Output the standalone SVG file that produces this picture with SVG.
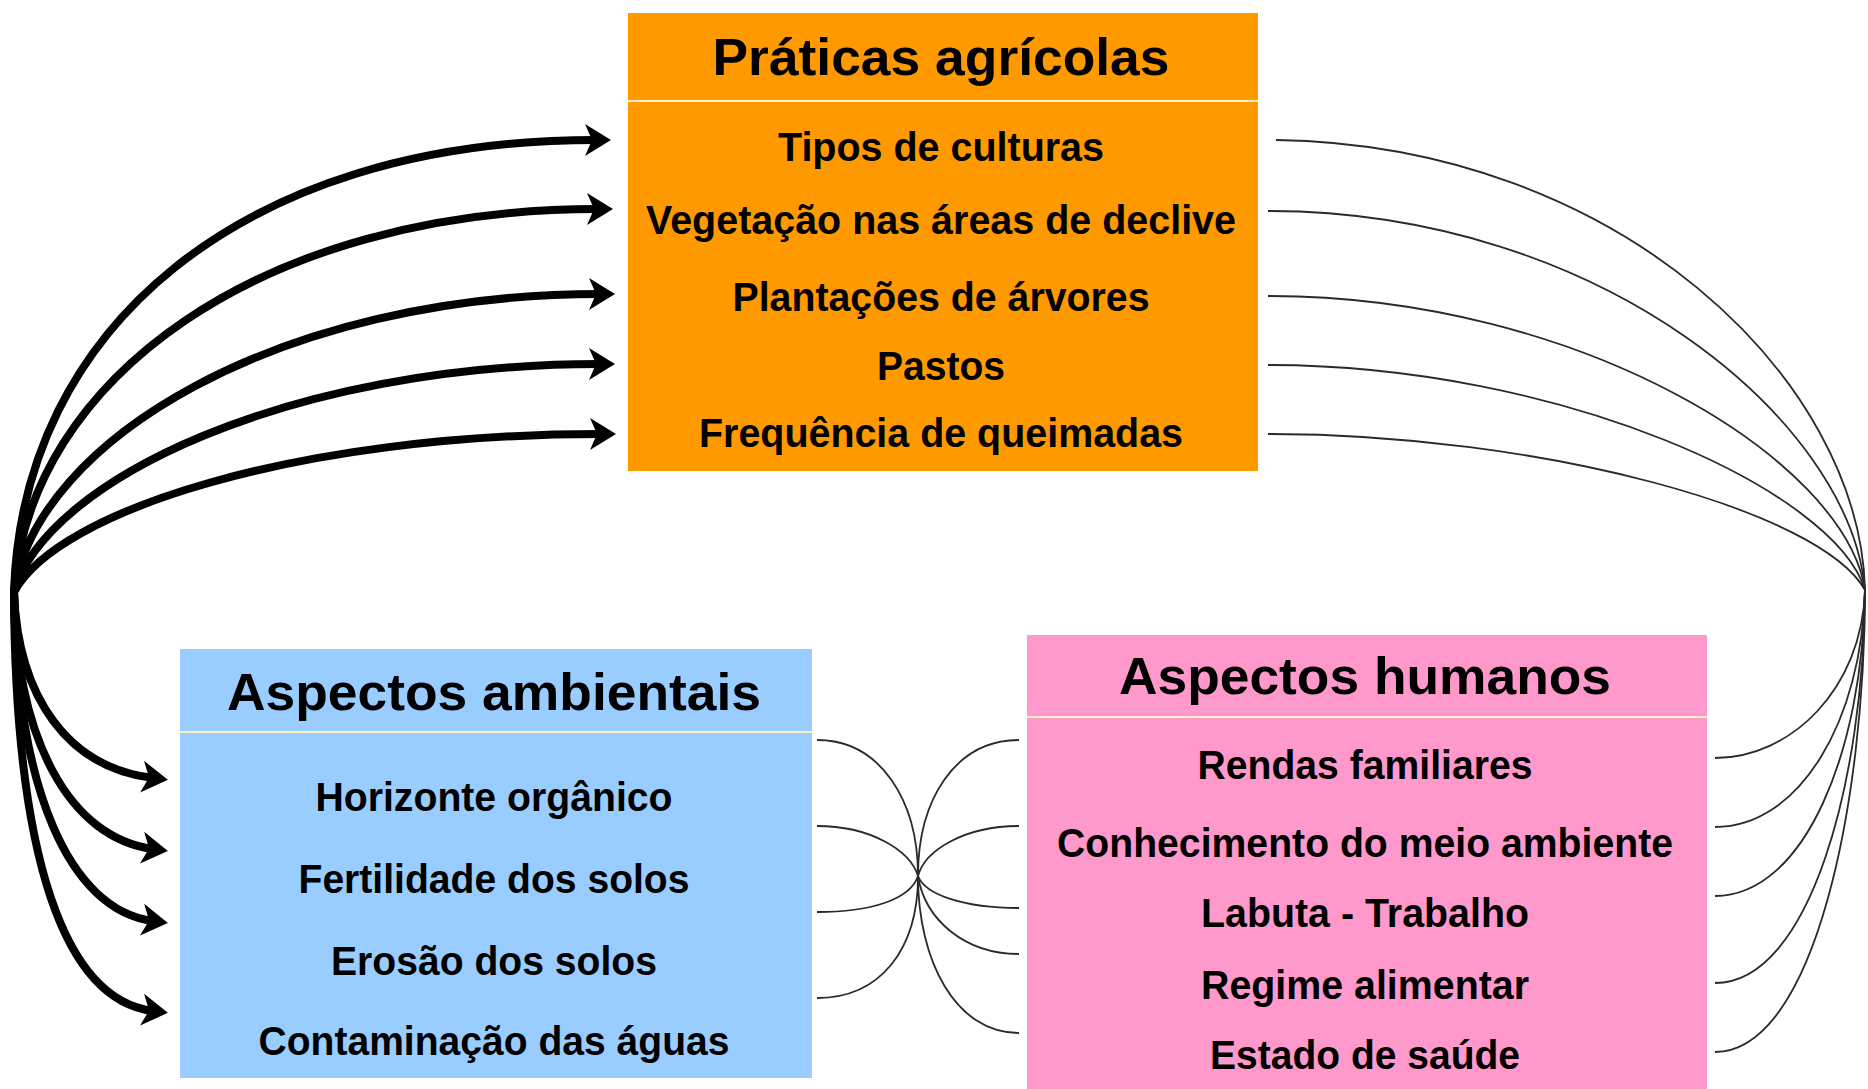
<svg xmlns="http://www.w3.org/2000/svg" width="1868" height="1089" viewBox="0 0 1868 1089">
<defs>
<style>
.t{font-family:"Liberation Sans",Arial,sans-serif;font-weight:bold;fill:#000;text-anchor:middle}
.title{font-size:52px}
.item{font-size:41px}
.div{stroke:#FFF0C8;stroke-width:2}
.thick{fill:none;stroke:#000;stroke-width:8}
.thin{fill:none;stroke:#2a2a2a;stroke-width:1.8}
</style>
<marker id="ah" markerUnits="userSpaceOnUse" markerWidth="44" markerHeight="44" viewBox="-22 -22 44 44" refX="0" refY="0" orient="auto">
<path d="M-11,-16 L15,0 L-11,16 L-4,0 Z" fill="#000"/>
</marker>
</defs>
<rect width="1868" height="1089" fill="#fff"/>

<g id="praticas">
<rect x="628" y="13" width="630" height="458" fill="#FF9900"/>
<line class="div" x1="628" y1="101" x2="1258" y2="101"/>
<text class="t title" x="941" y="75" textLength="457" lengthAdjust="spacingAndGlyphs">Práticas agrícolas</text>
<text class="t item" x="941" y="161" textLength="326" lengthAdjust="spacingAndGlyphs">Tipos de culturas</text>
<text class="t item" x="941" y="234" textLength="590" lengthAdjust="spacingAndGlyphs">Vegetação nas áreas de declive</text>
<text class="t item" x="941" y="311" textLength="417" lengthAdjust="spacingAndGlyphs">Plantações de árvores</text>
<text class="t item" x="941" y="380" textLength="128" lengthAdjust="spacingAndGlyphs">Pastos</text>
<text class="t item" x="941" y="447" textLength="484" lengthAdjust="spacingAndGlyphs">Frequência de queimadas</text>
</g>

<g id="ambientais">
<rect x="180" y="649" width="632" height="429" fill="#99CCFF"/>
<line class="div" x1="180" y1="732" x2="812" y2="732"/>
<text class="t title" x="494" y="710" textLength="534" lengthAdjust="spacingAndGlyphs">Aspectos ambientais</text>
<text class="t item" x="494" y="811" textLength="357" lengthAdjust="spacingAndGlyphs">Horizonte orgânico</text>
<text class="t item" x="494" y="893" textLength="391" lengthAdjust="spacingAndGlyphs">Fertilidade dos solos</text>
<text class="t item" x="494" y="975" textLength="326" lengthAdjust="spacingAndGlyphs">Erosão dos solos</text>
<text class="t item" x="494" y="1055" textLength="471" lengthAdjust="spacingAndGlyphs">Contaminação das águas</text>
</g>

<g id="humanos">
<rect x="1027" y="635" width="680" height="454" fill="#FF99CC"/>
<line class="div" x1="1027" y1="717" x2="1707" y2="717"/>
<text class="t title" x="1365" y="694" textLength="492" lengthAdjust="spacingAndGlyphs">Aspectos humanos</text>
<text class="t item" x="1365" y="779" textLength="335" lengthAdjust="spacingAndGlyphs">Rendas familiares</text>
<text class="t item" x="1365" y="857" textLength="616" lengthAdjust="spacingAndGlyphs">Conhecimento do meio ambiente</text>
<text class="t item" x="1365" y="927" textLength="328" lengthAdjust="spacingAndGlyphs">Labuta - Trabalho</text>
<text class="t item" x="1365" y="999" textLength="328" lengthAdjust="spacingAndGlyphs">Regime alimentar</text>
<text class="t item" x="1365" y="1069" textLength="310" lengthAdjust="spacingAndGlyphs">Estado de saúde</text>
</g>

<g id="connectors">
<path class="thick" marker-end="url(#ah)" d="M14,592 C22,330 240,140 596,140"/>
<path class="thick" marker-end="url(#ah)" d="M14,592 C28,380 260,209 598,209"/>
<path class="thick" marker-end="url(#ah)" d="M14,592 C36,440 280,294 600,294"/>
<path class="thick" marker-end="url(#ah)" d="M14,592 C46,480 290,364 600,364"/>
<path class="thick" marker-end="url(#ah)" d="M14,592 C58,510 300,434 601,434"/>
<path class="thick" marker-end="url(#ah)" d="M14,592 C18,700 70,768 153,778"/>
<path class="thick" marker-end="url(#ah)" d="M14,592 C16,740 70,838 153,849"/>
<path class="thick" marker-end="url(#ah)" d="M14,592 C16,790 70,910 153,921"/>
<path class="thick" marker-end="url(#ah)" d="M14,592 C15,860 65,1000 153,1011"/>

<path class="thin" d="M1276,140 C1620,145 1860,380 1865,590"/>
<path class="thin" d="M1268,211 C1600,211 1850,420 1865,590"/>
<path class="thin" d="M1268,296 C1580,296 1845,460 1865,590"/>
<path class="thin" d="M1268,365 C1560,365 1835,490 1865,590"/>
<path class="thin" d="M1268,434 C1540,434 1820,510 1865,590"/>

<path class="thin" d="M1715,758 C1790,758 1862,690 1865,590"/>
<path class="thin" d="M1715,827 C1800,827 1862,720 1865,590"/>
<path class="thin" d="M1715,896 C1805,896 1863,750 1865,590"/>
<path class="thin" d="M1715,983 C1810,983 1864,780 1865,590"/>
<path class="thin" d="M1715,1052 C1815,1052 1865,800 1865,590"/>

<path class="thin" d="M817,740 C880,740 918,800 918,876"/>
<path class="thin" d="M817,826 C870,826 910,850 918,876"/>
<path class="thin" d="M817,912 C870,912 910,900 918,876"/>
<path class="thin" d="M817,998 C880,998 918,950 918,876"/>
<path class="thin" d="M1019,740 C955,740 918,800 918,876"/>
<path class="thin" d="M1019,826 C965,826 925,850 918,876"/>
<path class="thin" d="M1019,908 C965,908 925,895 918,876"/>
<path class="thin" d="M1019,954 C965,954 925,920 918,876"/>
<path class="thin" d="M1019,1033 C955,1033 918,960 918,876"/>
</g>
</svg>
